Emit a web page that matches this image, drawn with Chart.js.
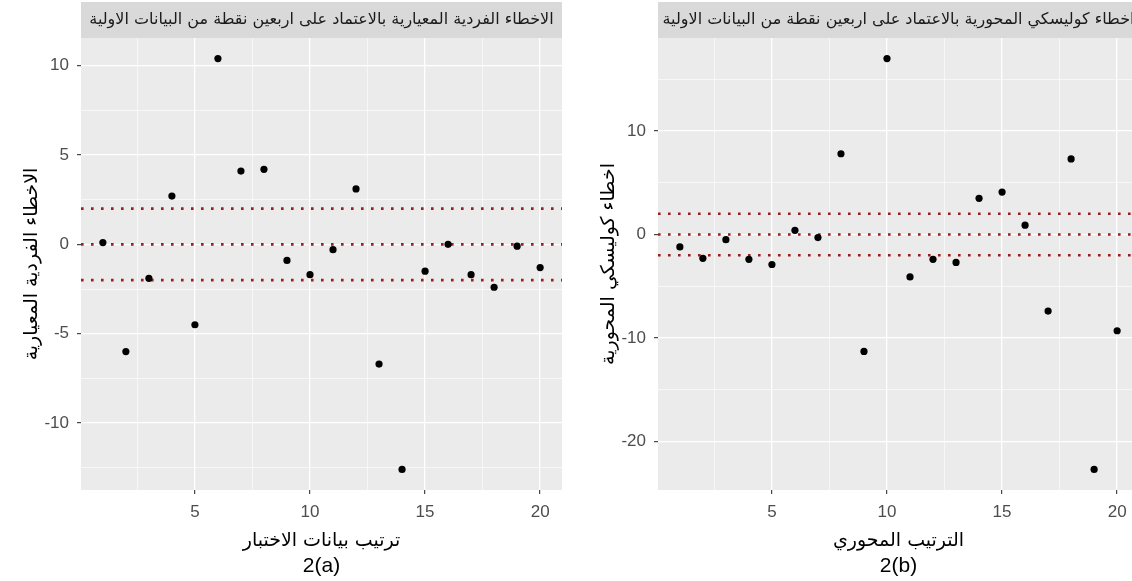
<!DOCTYPE html>
<html><head><meta charset="utf-8">
<script src="https://cdn.jsdelivr.net/npm/chart.js@4.4.1/dist/chart.umd.min.js"></script>
<style>
html,body{margin:0;padding:0;background:#fff;width:1132px;height:581px;overflow:hidden}
#pa{position:absolute;left:0;top:0;width:566px;height:581px}
#wb{position:absolute;left:577px;top:0;width:555px;height:581px;overflow:hidden}
#pb{position:absolute;left:0;top:0;width:566px;height:581px}
canvas{display:block}
</style></head><body>
<div id="pa"><canvas id="ca" width="566" height="581" style="width:566px;height:581px"></canvas></div>
<div id="wb"><div id="pb"><canvas id="cb" width="566" height="581" style="width:566px;height:581px"></canvas></div></div>
<script>
// ---- data ----
const testOrder = [1,2,3,4,5,6,7,8,9,10,11,12,13,14,15,16,17,18,19,20];
const stdResiduals = [0.1,-6.0,-1.9,2.7,-4.5,10.4,4.1,4.2,-0.9,-1.7,-0.3,3.1,-6.7,-12.6,-1.5,0.0,-1.7,-2.4,-0.1,-1.3];
const choleskyErrors = [-1.2,-2.3,-0.5,-2.4,-2.9,0.4,-0.3,7.8,-11.3,17.0,-4.1,-2.4,-2.7,3.5,4.1,0.9,-7.4,7.3,-22.7,-9.3];
const refLevels = [2, 0, -2];
const xMajorTicks = [5,10,15,20];
const xMinorTicks = [2.5,7.5,12.5,17.5];
const yMajorA = [-10,-5,0,5,10];
const yMinorA = [-12.5,-7.5,-2.5,2.5,7.5];
const yMajorB = [-20,-10,0,10];
const yMinorB = [-15,-5,5,15];
const stripA = 'الاخطاء الفردية المعيارية بالاعتماد على اربعين نقطة من البيانات الاولية';
const stripB = 'اخطاء كوليسكي المحورية بالاعتماد على اربعين نقطة من البيانات الاولية';
const yTitleA = 'الاخطاء الفردية المعيارية';
const yTitleB = 'اخطاء كوليسكي المحورية';
const xTitleA = 'ترتيب بيانات الاختبار';
const xTitleB = 'الترتيب المحوري';
const captionA = '2(a)';
const captionB = '2(b)';

const AR = "'DejaVu Sans', 'Liberation Sans', sans-serif";
const LAT = "'Liberation Sans', Arial, sans-serif";

function expand(vals){
  const mn = Math.min(...vals), mx = Math.max(...vals), d = (mx-mn)*0.05;
  return [mn-d, mx+d];
}

const ggPlugin = {
  id: 'gg',
  beforeDraw(chart, args, o){
    const {ctx, chartArea:a} = chart;
    ctx.save();
    ctx.fillStyle = '#EBEBEB';
    ctx.fillRect(a.left, a.top, a.right-a.left, a.bottom-a.top);
    ctx.fillStyle = '#D9D9D9';
    ctx.fillRect(a.left, 2, a.right-a.left, a.top-2);
    ctx.fillStyle = '#1A1A1A';
    ctx.font = o.stripFont;
    ctx.textAlign = 'center';
    ctx.textBaseline = 'middle';
    ctx.fillText(o.strip, (a.left+a.right)/2, (2+a.top)/2);
    ctx.restore();
  },
  afterDraw(chart, args, o){
    const {ctx, chartArea:a} = chart;
    ctx.save();
    ctx.fillStyle = '#000';
    ctx.font = o.capFont;
    ctx.textAlign = 'center';
    ctx.textBaseline = 'middle';
    ctx.fillText(o.caption, (a.left+a.right)/2, o.capY);
    ctx.restore();
  }
};

function makeChart(id, values, yMajor, yMinor, strip, yTitle, xTitle, caption){
  const [xmin, xmax] = expand(testOrder);
  const [ymin, ymax] = expand(values);
  const isXMaj = v => xMajorTicks.includes(v);
  const isYMaj = v => yMajor.includes(v);
  const datasets = [{
    type:'scatter',
    data: testOrder.map((x,i)=>({x, y: values[i]})),
    backgroundColor:'#000', borderWidth:0, pointRadius:3.6, order:0
  }];
  refLevels.forEach(l => datasets.push({
    type:'line',
    data:[{x:xmin,y:l},{x:xmax,y:l}],
    borderColor:'#9A1F1F', borderWidth:2.6, borderDash:[2.6,7.4],
    pointRadius:0, fill:false, order:1
  }));
  return new Chart(document.getElementById(id), {
    data:{datasets},
    options:{
      responsive:false, animation:false,
      layout:{padding:{top:38,left:0,right:2,bottom:21}},
      plugins:{legend:{display:false}, tooltip:{enabled:false},
        gg:{strip, caption, stripFont:'16px '+AR, capFont:'21px '+LAT, capY:566}},
      scales:{
        x:{type:'linear', min:xmin, max:xmax,
          afterBuildTicks: s => { s.ticks = [...xMinorTicks, ...xMajorTicks].sort((a,b)=>a-b).map(v=>({value:v})); },
          afterFit: s => { s.height = 70; },
          border:{display:false},
          grid:{color:'#FFFFFF', lineWidth: c => isXMaj(c.tick.value)?1.3:0.6,
            tickColor: c => isXMaj(c.tick.value)?'#333333':'rgba(0,0,0,0)', tickLength:4, tickWidth:1.1},
          ticks:{autoSkip:false, maxRotation:0, padding:8, color:'#4D4D4D', font:{family:LAT,size:17},
            callback: v => isXMaj(v) ? String(v) : ''},
          title:{display:true, text:xTitle, color:'#000', font:{family:AR,size:19}, padding:{top:0,bottom:8}}
        },
        y:{type:'linear', min:ymin, max:ymax,
          afterBuildTicks: s => { s.ticks = [...yMinor, ...yMajor].sort((a,b)=>a-b).map(v=>({value:v})); },
          afterFit: s => { s.width = 81; },
          border:{display:false},
          grid:{color:'#FFFFFF', lineWidth: c => isYMaj(c.tick.value)?1.3:0.6,
            tickColor: c => isYMaj(c.tick.value)?'#333333':'rgba(0,0,0,0)', tickLength:4, tickWidth:1.1},
          ticks:{autoSkip:false, padding:8, color:'#4D4D4D', font:{family:LAT,size:17},
            callback: v => isYMaj(v) ? String(v) : ''},
          title:{display:true, text:yTitle, color:'#000', font:{family:AR,size:19}, padding:{top:21,bottom:0}}
        }
      }
    },
    plugins:[ggPlugin]
  });
}

makeChart('ca', stdResiduals, yMajorA, yMinorA, stripA, yTitleA, xTitleA, captionA);
makeChart('cb', choleskyErrors, yMajorB, yMinorB, stripB, yTitleB, xTitleB, captionB);
</script>
</body></html>
